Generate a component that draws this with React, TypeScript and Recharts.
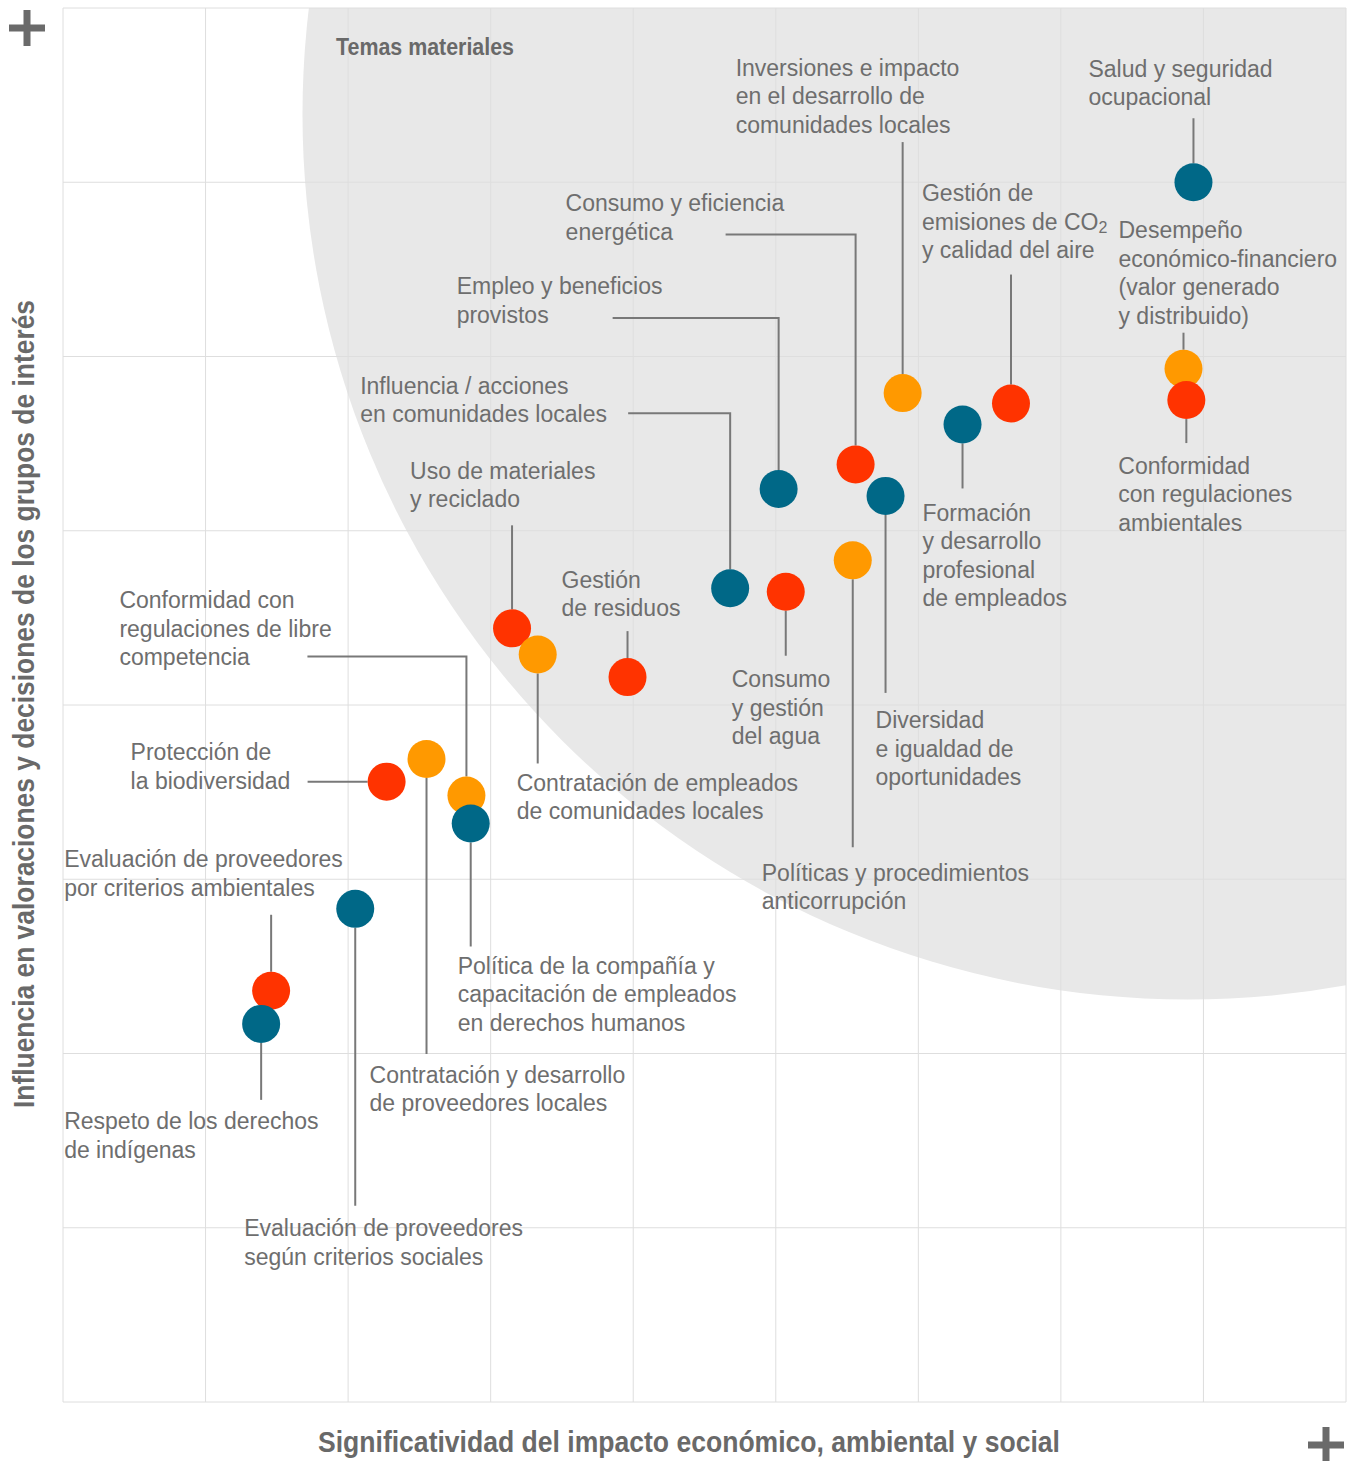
import React from 'react';
import { ScatterChart, Scatter, XAxis, YAxis, CartesianGrid, ReferenceArea } from 'recharts';

// ---------- data ----------
const topics: string[] = [
  'Salud y seguridad ocupacional',
  'Desempeño económico-financiero',
  'Conformidad con regulaciones ambientales',
  'Gestión de emisiones de CO₂ y calidad del aire',
  'Formación y desarrollo profesional de empleados',
  'Inversiones e impacto en el desarrollo de comunidades locales',
  'Consumo y eficiencia energética',
  'Diversidad e igualdad de oportunidades',
  'Empleo y beneficios provistos',
  'Políticas y procedimientos anticorrupción',
  'Consumo y gestión del agua',
  'Influencia / acciones en comunidades locales',
  'Gestión de residuos',
  'Uso de materiales y reciclado',
  'Contratación de empleados de comunidades locales',
  'Conformidad con regulaciones de libre competencia',
  'Política de la compañía y capacitación de empleados en derechos humanos',
  'Contratación y desarrollo de proveedores locales',
  'Protección de la biodiversidad',
  'Evaluación de proveedores según criterios sociales',
  'Evaluación de proveedores por criterios ambientales',
  'Respeto de los derechos de indígenas',
];

// significance of economic, environmental and social impact (x)
const impactValues: number[] = [
  7.93, 7.86, 7.88, 6.65, 6.31, 5.89, 5.56, 5.77, 5.02, 5.54, 5.07,
  4.68, 3.96, 3.15, 3.33, 2.83, 2.86, 2.55, 2.27, 2.05, 1.46, 1.39,
];

// influence on stakeholder assessments and decisions (y)
const influenceValues: number[] = [
  7.0, 5.93, 5.75, 5.73, 5.61, 5.79, 5.38, 5.2, 5.24, 4.83, 4.65,
  4.67, 4.16, 4.44, 4.29, 3.48, 3.32, 3.69, 3.56, 2.83, 2.36, 2.17,
];

const dimensions: string[] = [
  'Social', 'Económico', 'Ambiental', 'Ambiental', 'Social', 'Económico',
  'Ambiental', 'Social', 'Social', 'Económico', 'Ambiental', 'Social',
  'Ambiental', 'Ambiental', 'Económico', 'Económico', 'Social', 'Económico',
  'Ambiental', 'Social', 'Ambiental', 'Social',
];

const labelLines: string[][] = [
  ['Salud y seguridad', 'ocupacional'],
  ['Desempeño', 'económico-financiero', '(valor generado', 'y distribuido)'],
  ['Conformidad', 'con regulaciones', 'ambientales'],
  ['Gestión de', 'emisiones de CO₂', 'y calidad del aire'],
  ['Formación', 'y desarrollo', 'profesional', 'de empleados'],
  ['Inversiones e impacto', 'en el desarrollo de', 'comunidades locales'],
  ['Consumo y eficiencia', 'energética'],
  ['Diversidad', 'e igualdad de', 'oportunidades'],
  ['Empleo y beneficios', 'provistos'],
  ['Políticas y procedimientos', 'anticorrupción'],
  ['Consumo', 'y gestión', 'del agua'],
  ['Influencia / acciones', 'en comunidades locales'],
  ['Gestión', 'de residuos'],
  ['Uso de materiales', 'y reciclado'],
  ['Contratación de empleados', 'de comunidades locales'],
  ['Conformidad con', 'regulaciones de libre', 'competencia'],
  ['Política de la compañía y', 'capacitación de empleados', 'en derechos humanos'],
  ['Contratación y desarrollo', 'de proveedores locales'],
  ['Protección de', 'la biodiversidad'],
  ['Evaluación de proveedores', 'según criterios sociales'],
  ['Evaluación de proveedores', 'por criterios ambientales'],
  ['Respeto de los derechos', 'de indígenas'],
];

const xTicks = [0, 1, 2, 3, 4, 5, 6, 7, 8, 9];
const yTicks = [0, 1, 2, 3, 4, 5, 6, 7, 8];

// material topics zone (ellipse in data units)
const materialZone = { cx: 7.89, cy: 7.39, rx: 6.21, ry: 5.08 };

const zoneTitle = 'Temas materiales';
const xTitle = 'Significatividad del impacto económico, ambiental y social';
const yTitle = 'Influencia en valoraciones y decisiones de los grupos de interés';

// ---------- styles / layout ----------
const dimensionColors: Record<string, string> = {
  Social: '#006887',
  Ambiental: '#ff3300',
  Económico: '#ff9900',
};

type Layout = { tx: number; ty: number; leader: [number, number][] };
// label position and leader path, in px relative to the dot centre
const labelLayout: Layout[] = [
  { tx: -105, ty: -114, leader: [[0, -64], [0, -19]] },
  { tx: -65, ty: -139, leader: [[0, -36], [0, -19]] },
  { tx: -68, ty: 65, leader: [[0, 19], [0, 43]] },
  { tx: -89, ty: -211, leader: [[0, -129], [0, -19]] },
  { tx: -40, ty: 88, leader: [[0, 19], [0, 64]] },
  { tx: -167, ty: -326, leader: [[0, -251], [0, -19]] },
  { tx: -290, ty: -262, leader: [[-130, -230], [0, -230], [0, -19]] },
  { tx: -10, ty: 224, leader: [[0, 19], [0, 197]] },
  { tx: -322, ty: -203, leader: [[-166, -171], [0, -171], [0, -19]] },
  { tx: -91, ty: 312, leader: [[0, 19], [0, 287]] },
  { tx: -54, ty: 87, leader: [[0, 19], [0, 64]] },
  { tx: -370, ty: -203, leader: [[-102, -175], [0, -175], [0, -19]] },
  { tx: -66, ty: -98, leader: [[0, -46], [0, -19]] },
  { tx: -102, ty: -158, leader: [[0, -103], [0, -19]] },
  { tx: -21, ty: 128, leader: [[0, 19], [0, 109]] },
  { tx: -347, ty: -196, leader: [[-159, -139], [0, -139], [0, -19]] },
  { tx: -13, ty: 142, leader: [[0, 19], [0, 123]] },
  { tx: -57, ty: 315, leader: [[0, 19], [0, 295]] },
  { tx: -256, ty: -30, leader: [[-79, 0], [-19, 0]] },
  { tx: -111, ty: 319, leader: [[0, 19], [0, 297]] },
  { tx: -207, ty: -132, leader: [[0, -76], [0, -19]] },
  { tx: -197, ty: 97, leader: [[0, 19], [0, 76]] },
];

const FONT = "'Liberation Sans', Arial, sans-serif";
const TEXT_COLOR = '#6e6e6e';
const TITLE_COLOR = '#696969';
const LINE_H = 28.5;
const DOT_R = 19;

const chartData = topics.map((topic, i) => ({
  id: i,
  topic,
  x: impactValues[i],
  y: influenceValues[i],
  dimension: dimensions[i],
}));

function renderLine(line: string) {
  const idx = line.indexOf('₂');
  if (idx < 0) return line;
  return (
    <>
      <tspan>{line.slice(0, idx)}</tspan>
      <tspan fontSize={16} dy={3}>2</tspan>
      {idx + 1 < line.length ? <tspan dy={-3}>{line.slice(idx + 1)}</tspan> : null}
    </>
  );
}

function LabelShape(props: any) {
  const { cx, cy, payload } = props;
  if (cx == null || cy == null || !payload) return <g />;
  const lay = labelLayout[payload.id];
  const lines = labelLines[payload.id];
  const pts = lay.leader.map(([dx, dy]) => `${cx + dx},${cy + dy}`).join(' ');
  return (
    <g>
      <polyline points={pts} fill="none" stroke="#787878" strokeWidth={2} />
      {lines.map((ln, i) => (
        <text
          key={i}
          x={cx + lay.tx}
          y={cy + lay.ty + 8.5 + i * LINE_H}
          fontFamily={FONT}
          fontSize={23}
          fill={TEXT_COLOR}
        >
          {renderLine(ln)}
        </text>
      ))}
    </g>
  );
}

function DotShape(props: any) {
  const { cx, cy, payload } = props;
  if (cx == null || cy == null || !payload) return <g />;
  return <circle cx={cx} cy={cy} r={DOT_R} fill={dimensionColors[payload.dimension]} />;
}

function ZoneShape(props: any) {
  const { x, y, width, height } = props;
  const w = Math.abs(width);
  const h = Math.abs(height);
  const left0 = Math.min(x, x + width);
  const top0 = Math.min(y, y + height);
  const x1 = materialZone.cx - materialZone.rx;
  const x2 = materialZone.cx + materialZone.rx;
  const y2 = materialZone.cy + materialZone.ry;
  const y1 = materialZone.cy - materialZone.ry;
  const sx = w / (x2 - x1);
  const sy = h / (y2 - y1);
  const xMin = xTicks[0];
  const xMax = xTicks[xTicks.length - 1];
  const yMin = yTicks[0];
  const yMax = yTicks[yTicks.length - 1];
  const clipL = left0 + (xMin - x1) * sx;
  const clipR = left0 + (xMax - x1) * sx;
  const clipT = top0 + (y2 - yMax) * sy;
  const clipB = top0 + (y2 - yMin) * sy;
  return (
    <g>
      <defs>
        <clipPath id="material-zone-clip">
          <rect x={clipL} y={clipT} width={clipR - clipL} height={clipB - clipT} />
        </clipPath>
      </defs>
      <ellipse
        clipPath="url(#material-zone-clip)"
        cx={left0 + w / 2}
        cy={top0 + h / 2}
        rx={w / 2}
        ry={h / 2}
        fill="#e8e8e8"
      />
    </g>
  );
}

function Plus({ x, y }: { x: number; y: number }) {
  return (
    <g fill="#6a6a6a">
      <rect x={x - 18} y={y - 3.5} width={36} height={7} />
      <rect x={x - 3.5} y={y - 18} width={7} height={36} />
    </g>
  );
}

export default function App() {
  return (
    <div style={{ position: 'absolute', left: 0, top: 0, width: 1355, height: 1461, background: '#fff' }}>
      <ScatterChart
        width={1355}
        height={1461}
        margin={{ top: 8, right: 9, bottom: 59, left: 63 }}
      >
        <XAxis type="number" dataKey="x" domain={[0, 9]} ticks={xTicks} allowDataOverflow hide />
        <YAxis type="number" dataKey="y" domain={[0, 8]} ticks={yTicks} allowDataOverflow hide />
        <ReferenceArea
          x1={materialZone.cx - materialZone.rx}
          x2={materialZone.cx + materialZone.rx}
          y1={materialZone.cy - materialZone.ry}
          y2={materialZone.cy + materialZone.ry}
          ifOverflow="visible"
          shape={ZoneShape}
          {...({ zIndex: -150 } as any)}
        />
        <CartesianGrid stroke="#dedede" strokeWidth={1} />
        <Scatter data={chartData} shape={LabelShape} isAnimationActive={false} />
        <Scatter data={chartData} shape={DotShape} isAnimationActive={false} />
      </ScatterChart>
      <svg
        width={1355}
        height={1461}
        style={{ position: 'absolute', left: 0, top: 0, pointerEvents: 'none' }}
      >
        <Plus x={27} y={28} />
        <Plus x={1326} y={1445} />
        <text
          x={336}
          y={55}
          fontFamily={FONT}
          fontWeight="bold"
          fontSize={23}
          textLength={178}
          lengthAdjust="spacingAndGlyphs"
          fill={TITLE_COLOR}
        >
          {zoneTitle}
        </text>
        <text
          x={318}
          y={1452}
          fontFamily={FONT}
          fontWeight="bold"
          fontSize={29}
          textLength={742}
          lengthAdjust="spacingAndGlyphs"
          fill={TITLE_COLOR}
        >
          {xTitle}
        </text>
        <text
          x={34}
          y={1108}
          transform="rotate(-90 34 1108)"
          fontFamily={FONT}
          fontWeight="bold"
          fontSize={29}
          textLength={808}
          lengthAdjust="spacingAndGlyphs"
          fill={TITLE_COLOR}
        >
          {yTitle}
        </text>
      </svg>
    </div>
  );
}
